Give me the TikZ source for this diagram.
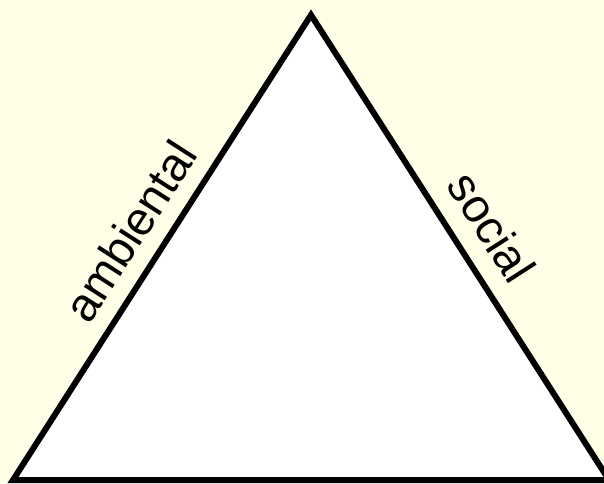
\documentclass[tikz,border=0pt]{standalone}
\usepackage{fontspec}
\setmainfont{Liberation Sans}
\definecolor{bgyellow}{HTML}{FFFFE8}
\begin{document}
\begin{tikzpicture}[x=1pt,y=1pt,
  edge/.style={draw=black,line width=6pt,fill=white,line join=miter},
  lbl/.style={inner sep=0pt,font=\fontsize{47}{50}\selectfont}]
\useasboundingbox (0,0) rectangle (604,483);
\fill[bgyellow] (0,0) rectangle (604,483);
\clip (0,0) rectangle (604,483);
\coordinate (top) at (311,468);
\coordinate (bl) at (13,3);
\coordinate (br) at (609,3);
\path[edge] (top) -- (bl) -- (br) -- cycle;
\node[lbl,rotate=57.3] (amb) at (130,252) {ambiental};
\node[lbl,rotate=-57.3] (soc) at (492,256) {social};
\end{tikzpicture}
\end{document}
